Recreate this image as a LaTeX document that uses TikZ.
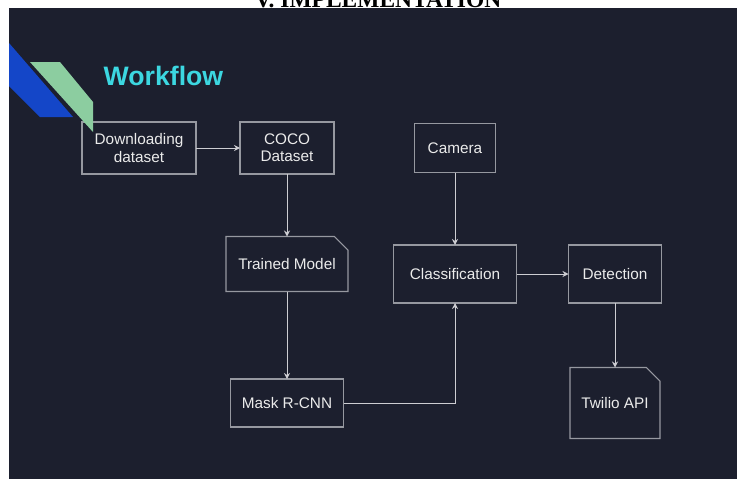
\documentclass[tikz,border=0pt]{standalone}
\usepackage{fontspec}
\setmainfont{Liberation Sans}
\newfontfamily\headfont{Liberation Serif}
\usepackage{tikz}
\usetikzlibrary{arrows.meta,shapes.misc}

\definecolor{slidebg}{RGB}{28,31,46}
\definecolor{boxline}{RGB}{150,152,160}
\definecolor{flowline}{RGB}{205,205,210}
\definecolor{wfcyan}{RGB}{60,215,225}
\definecolor{stripeblue}{RGB}{20,70,200}
\definecolor{stripegreen}{RGB}{140,205,160}

\tikzset{
	boxtext/.style={text=white!92!black, align=center, font=\fontsize{11.5}{13}\selectfont},
	blockbox/.style={boxtext, draw=boxline, line width=0.9pt, rectangle, inner sep=0pt, outer sep=0pt},
	notebox/.style={blockbox, chamfered rectangle, chamfered rectangle corners=north east,
		chamfered rectangle xsep=6pt, chamfered rectangle ysep=6pt},
	flow/.style={draw=flowline, line width=0.7pt, -{Stealth[length=4.5pt,width=4.5pt]}}
}

\begin{document}
\begin{tikzpicture}[x=0.75pt,y=-0.75pt]
	
	\useasboundingbox (0,0) rectangle (737,479);
	\fill[white] (0,0) rectangle (737,479);
	\fill[slidebg] (9,8) rectangle (737,479);
	
	\node[anchor=base, font=\fontsize{17.6}{20}\headfont\bfseries] (heading) at (378,7) {V. IMPLEMENTATION};
	
	\fill[stripeblue] (9,43) -- (73,117) -- (40,117) -- (9,86) -- cycle;
	
	\node[blockbox, minimum width=85.5pt, minimum height=39pt] (dl) at (139,148) {};
	\fill[stripegreen] (30,62) -- (60,62) -- (93,102) -- (93,132) -- cycle;
	\node[boxtext] (dltext) at (dl) {Downloading\\dataset};
	
	\node[anchor=base west, text=wfcyan, font=\fontsize{20}{22}\bfseries] (title) at (99,85) {Workflow};
	
	\node[blockbox, minimum width=70.5pt, minimum height=39pt] (coco) at (287,148) {COCO\\Dataset};
	\node[notebox, minimum width=91.5pt, minimum height=41.25pt] (trained) at (287,264) {Trained Model};
	\node[blockbox, minimum width=84.75pt, minimum height=36pt] (mask) at (287,403) {Mask R-CNN};
	
	\node[blockbox, minimum width=60.75pt, minimum height=36.75pt] (camera) at (455,148) {Camera};
	\node[blockbox, minimum width=92.25pt, minimum height=43.5pt] (classif) at (455,274) {Classification};
	\node[blockbox, minimum width=69.75pt, minimum height=43.5pt] (detect) at (615,274) {Detection};
	\node[notebox, minimum width=67.5pt, minimum height=53.25pt] (twilio) at (615,403) {Twilio API};
	
	\draw[flow] (dl.east) -- (coco.west);
	\draw[flow] (coco.south) -- (trained.north);
	\draw[flow] (trained.south) -- (mask.north);
	\draw[flow] (mask.east) -| (classif.south);
	\draw[flow] (camera.south) -- (classif.north);
	\draw[flow] (classif.east) -- (detect.west);
	\draw[flow] (detect.south) -- (twilio.north);
	
\end{tikzpicture}
\end{document}
